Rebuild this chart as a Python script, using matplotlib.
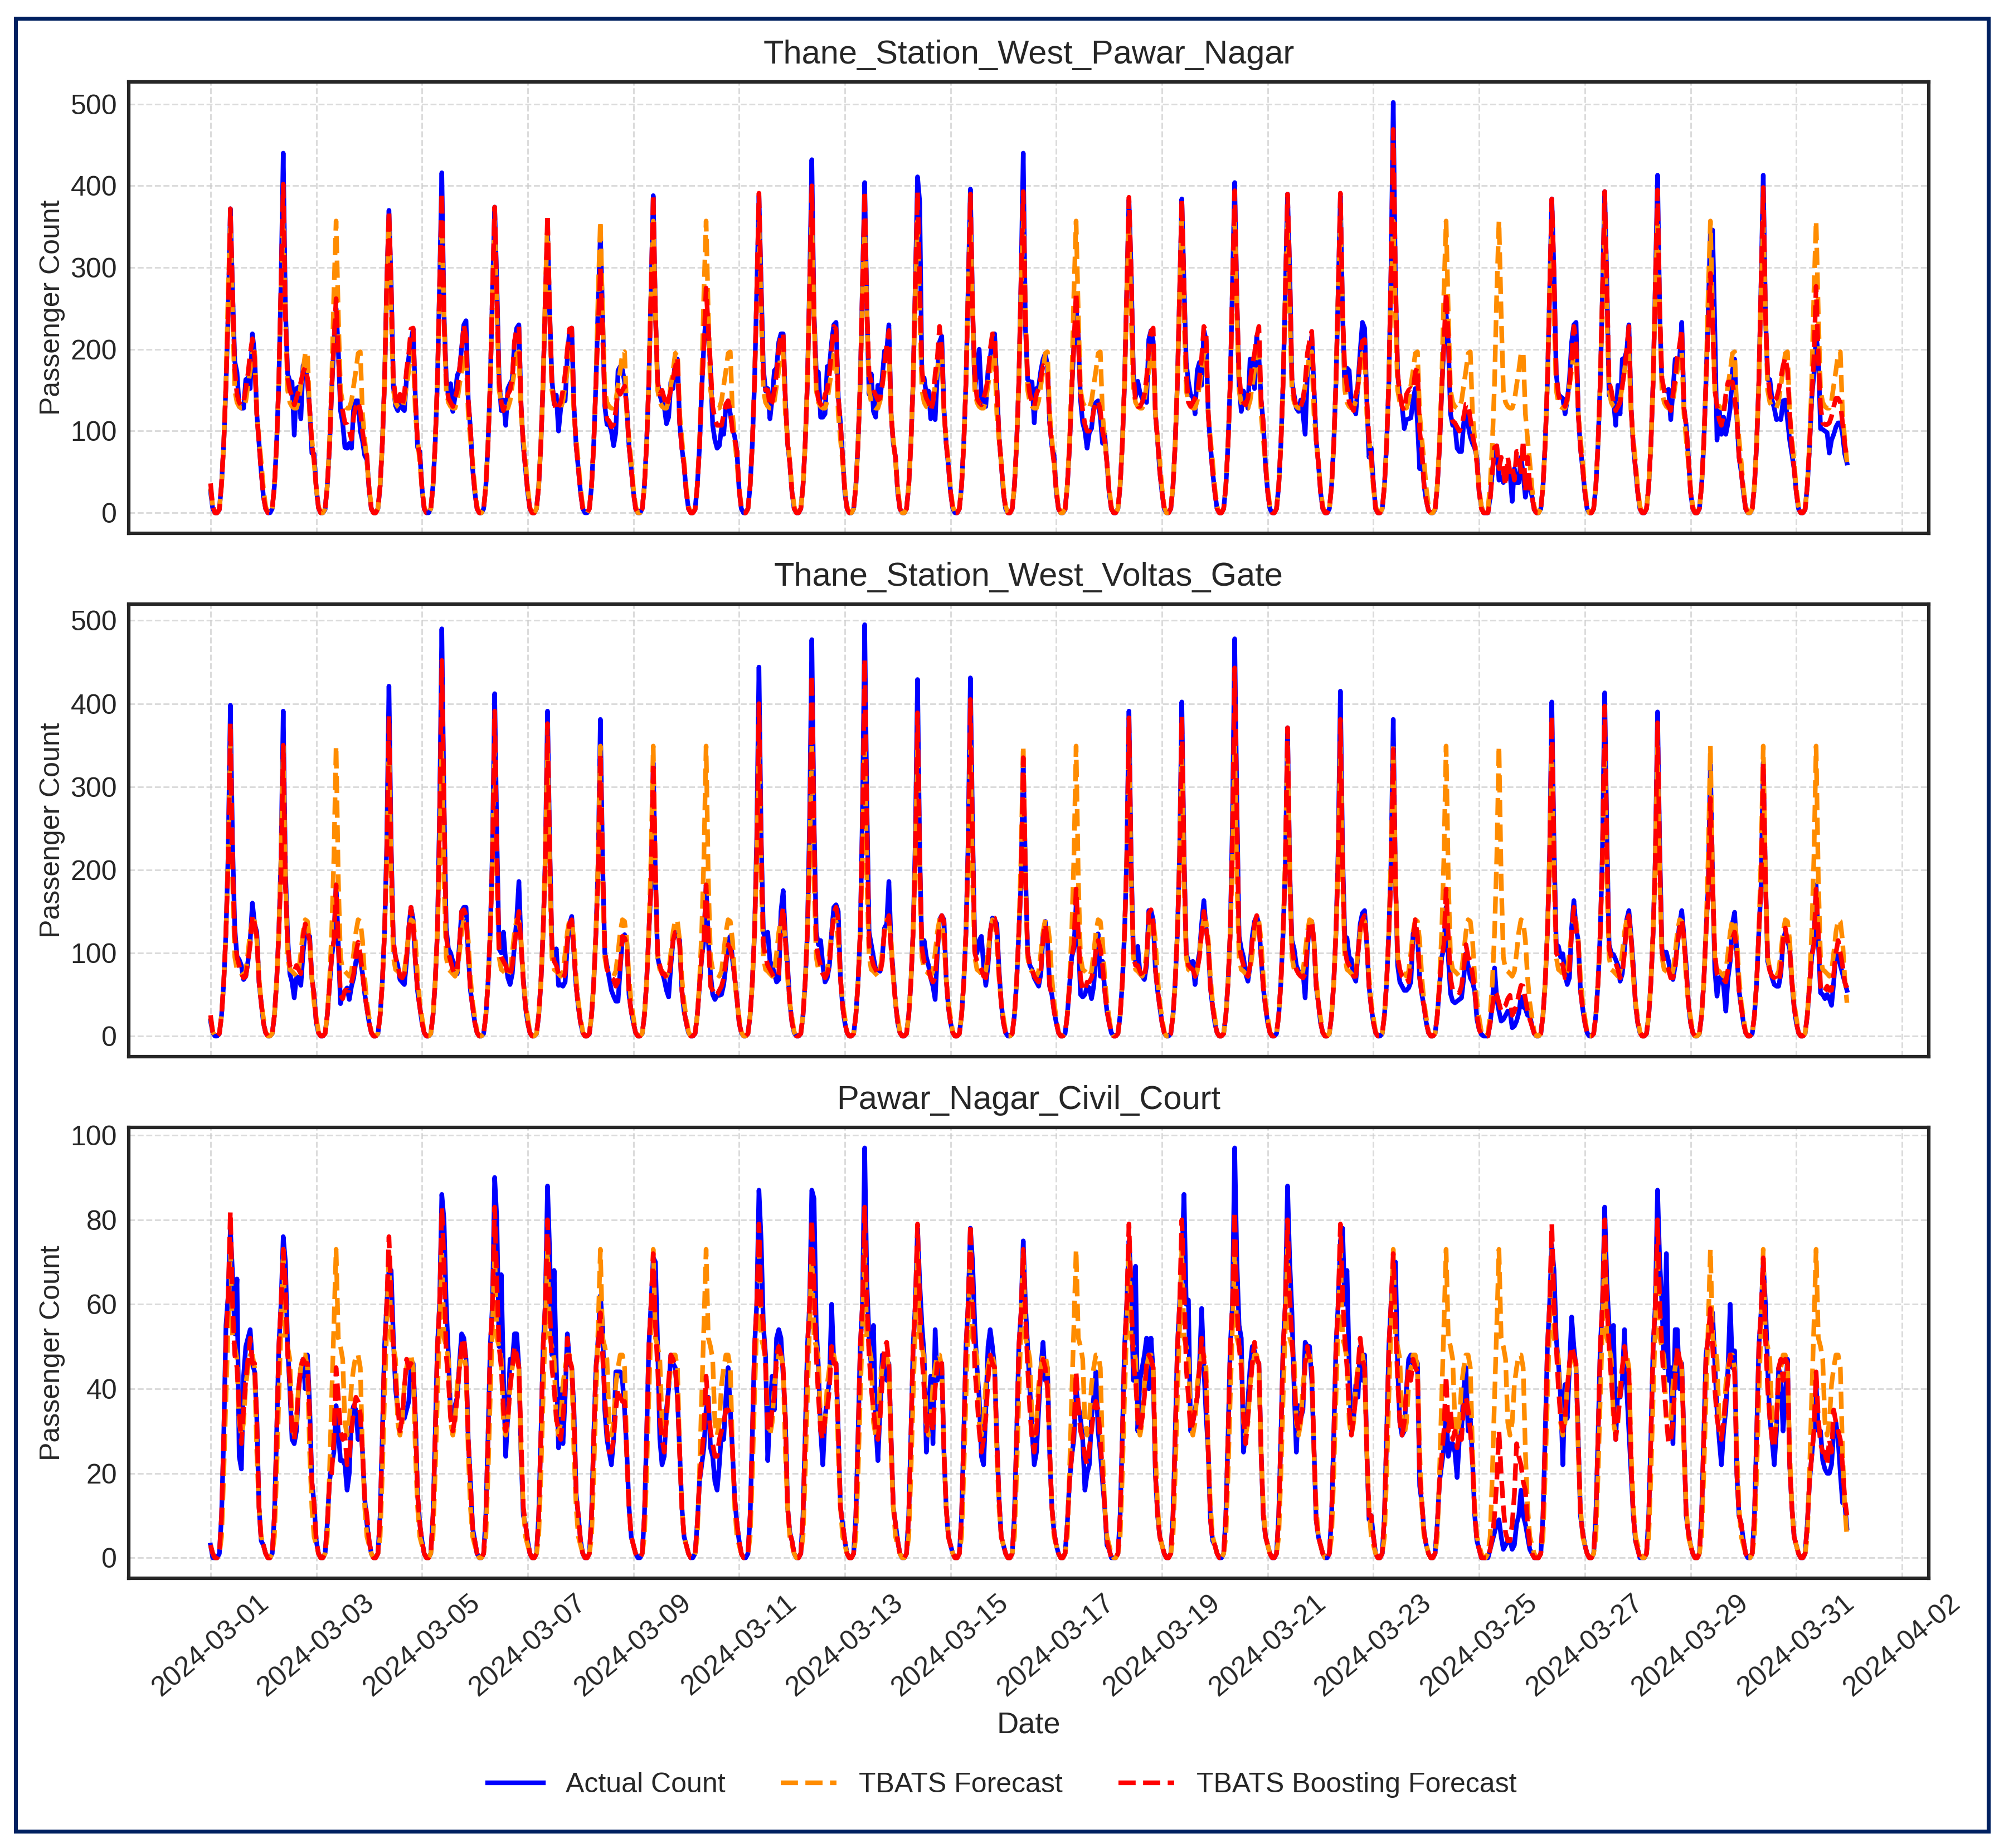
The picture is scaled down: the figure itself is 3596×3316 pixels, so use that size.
import pandas as pd
import matplotlib
matplotlib.use('Agg')
import matplotlib.pyplot as plt
import matplotlib.dates as mdates
from matplotlib.patches import Rectangle

plt.rcParams['font.family'] = ['Liberation Sans', 'DejaVu Sans']
plt.rcParams['text.color'] = '#262626'
plt.rcParams['axes.labelcolor'] = '#262626'
plt.rcParams['xtick.color'] = '#262626'
plt.rcParams['ytick.color'] = '#262626'

titles = ['Thane_Station_West_Pawar_Nagar', 'Thane_Station_West_Voltas_Gate', 'Pawar_Nagar_Civil_Court']
series_names = ['Actual Count', 'TBATS Forecast', 'TBATS Boosting Forecast']

# hourly readings, one line per day, 1 to 31 March
pawar_actual = [
26,5,0,0,4,36,85,156,244,372,270,185,172,130,128,128,163,165,152,219,195,121,85,50,
20,5,0,0,5,33,85,160,280,440,250,170,161,160,95,152,154,115,180,186,160,128,73,72,
30,6,0,0,4,33,80,150,205,250,200,125,110,80,79,85,79,130,137,137,100,88,70,65,
28,5,0,0,5,33,85,160,280,370,280,155,131,125,135,128,125,165,190,210,225,140,80,75,
30,5,0,0,5,33,85,160,280,416,244,166,142,158,124,142,168,174,202,230,235,138,103,54,
25,5,0,0,5,33,85,160,270,374,279,166,125,138,107,152,158,163,208,226,230,131,82,54,
25,5,0,0,5,33,85,160,260,350,244,163,133,144,100,128,138,137,191,223,226,131,82,54,
25,5,0,0,5,33,85,160,255,342,244,131,108,108,100,82,98,174,179,175,160,128,82,54,
25,5,0,0,5,33,85,160,270,388,244,160,144,135,130,109,117,160,152,188,188,110,79,58,
25,5,0,0,4,33,80,150,205,244,226,174,107,89,79,82,103,96,131,137,121,103,93,75,
28,5,0,0,5,33,85,160,270,388,279,177,149,152,115,140,174,177,209,219,219,138,85,61,
25,5,0,0,5,33,85,160,280,432,244,174,172,117,117,121,179,179,209,230,233,142,110,68,
25,5,0,0,5,33,85,160,280,404,250,145,170,124,117,156,138,166,198,198,230,121,85,68,
25,5,0,0,5,33,85,160,280,411,380,163,165,145,149,115,142,114,170,209,216,128,85,58,
25,5,0,0,5,33,85,160,275,396,251,151,177,200,142,131,130,174,188,216,219,156,93,61,
25,5,0,0,5,33,85,160,285,440,226,163,160,160,110,152,154,174,188,195,180,110,82,70,
25,5,0,0,4,33,80,150,205,251,216,138,110,100,79,98,103,128,135,137,117,85,96,61,
25,5,0,0,5,33,85,160,270,383,296,170,142,161,147,140,138,135,212,223,210,121,89,50,
25,5,0,0,5,33,85,160,270,384,279,184,160,144,142,121,174,184,156,223,212,121,82,50,
25,5,0,0,5,33,85,160,280,404,261,156,124,149,142,128,188,188,152,216,191,138,110,58,
25,5,0,0,5,33,85,160,270,390,296,160,144,128,124,138,121,96,170,184,216,152,89,61,
25,5,0,0,5,33,85,160,270,388,244,152,177,174,131,128,121,160,198,233,226,138,68,79,
35,5,0,0,5,33,85,160,300,502,279,170,142,131,103,114,115,116,138,152,110,54,75,33,
15,3,0,0,4,33,80,150,205,244,209,121,107,107,79,75,75,110,124,107,93,85,79,68,
25,8,0,0,0,19,50,75,82,40,44,37,51,47,50,14,54,37,37,68,47,19,37,33,
20,4,0,0,5,33,85,160,270,384,293,170,145,142,140,121,138,163,209,230,233,121,79,54,
25,5,0,0,5,33,85,160,270,393,279,144,144,138,107,156,121,188,189,198,230,128,82,54,
25,5,0,0,5,33,85,160,280,413,244,156,151,149,151,114,149,188,188,188,233,128,107,68,
25,5,0,0,5,33,85,160,245,344,346,226,89,128,96,117,96,110,128,174,188,117,68,50,
25,5,0,0,5,33,85,160,280,413,244,163,163,138,128,114,115,114,137,138,114,89,72,54,
25,5,0,0,4,33,80,140,170,216,195,103,102,100,98,73,89,96,105,110,110,96,72,61,
]
pawar_boost = [
36,8,0,0,4,36,85,156,244,372,270,175,145,135,131,135,152,170,195,213,190,121,85,50,
20,5,0,0,5,33,85,160,280,402,240,165,150,142,132,140,150,160,172,178,165,128,85,65,
30,6,0,0,4,33,80,150,209,262,195,135,125,110,108,100,90,118,130,136,125,100,80,70,
28,5,0,0,5,33,85,160,280,370,280,165,140,130,145,130,145,175,195,225,226,140,85,70,
30,5,0,0,5,33,85,160,280,392,235,160,140,135,130,140,150,175,200,230,215,138,103,54,
25,5,0,0,5,33,85,160,270,374,270,160,135,125,135,145,150,165,210,225,228,131,82,54,
25,5,0,0,5,33,85,160,260,365,240,160,135,125,130,135,150,170,200,225,226,131,82,54,
25,5,0,0,5,33,85,160,225,300,220,135,115,112,105,108,125,150,145,150,155,128,82,54,
25,5,0,0,5,33,85,160,270,390,244,160,145,150,140,130,140,150,165,178,190,110,79,58,
25,5,0,0,4,33,80,150,205,275,226,180,130,115,107,107,107,120,133,137,125,100,90,75,
28,5,0,0,5,33,85,160,270,391,270,165,150,150,130,135,150,170,200,219,219,138,85,61,
25,5,0,0,5,33,85,160,280,400,240,155,138,133,130,145,150,170,200,228,225,142,110,68,
25,5,0,0,5,33,85,160,280,394,250,170,160,150,144,138,140,156,181,205,223,121,85,68,
25,5,0,0,5,33,85,160,280,393,280,175,150,140,135,125,135,170,190,228,200,128,85,58,
25,5,0,0,5,33,85,160,275,390,251,170,140,135,132,140,150,165,200,219,219,156,93,61,
25,5,0,0,5,33,85,160,285,393,240,165,145,135,130,145,152,165,180,178,172,110,82,60,
25,5,0,0,4,33,80,150,205,270,210,145,125,108,100,100,110,125,135,137,125,100,88,61,
25,5,0,0,5,33,85,160,270,386,296,170,135,130,130,135,145,165,200,222,226,121,89,50,
25,5,0,0,5,33,85,160,270,384,279,170,135,130,135,140,145,165,190,228,222,121,82,50,
25,5,0,0,5,33,85,160,280,394,261,170,140,135,132,140,160,180,195,215,228,138,110,58,
25,5,0,0,5,33,85,160,270,390,296,165,140,130,128,130,138,160,195,210,222,152,89,61,
25,5,0,0,5,33,85,160,270,391,244,175,155,135,130,125,145,155,190,210,212,138,90,70,
35,5,0,0,5,33,85,160,300,469,290,170,145,130,125,145,150,152,150,172,178,100,75,33,
15,3,0,0,4,33,80,150,205,270,215,130,112,110,105,100,105,118,133,133,115,95,82,60,
25,5,0,0,0,15,50,80,82,54,68,50,33,68,50,58,40,75,75,50,89,26,68,33,
20,4,0,0,5,33,85,160,270,384,293,170,145,135,135,130,140,155,190,228,210,121,79,54,
25,5,0,0,5,33,85,160,270,393,279,160,150,135,125,130,135,155,175,200,228,128,82,54,
25,5,0,0,5,33,85,160,280,395,244,165,150,135,130,125,145,165,190,205,225,128,107,68,
25,5,0,0,5,33,85,160,225,293,230,150,131,114,107,120,145,160,160,160,140,117,68,50,
25,5,0,0,5,33,85,160,280,398,244,170,145,135,138,140,150,165,180,190,175,121,82,54,
25,5,0,0,4,33,80,140,190,277,190,130,110,108,108,110,118,130,140,140,135,110,85,65,
]
# TBATS repeats the same daily shape all month, read once per panel
pawar_tbats_day = [30,8,0,0,5,33,85,160,270,357,244,150,135,130,128,128,137,156,174,195,197,121,90,62]

voltas_actual = [
18,4,0,0,3,25,65,125,220,398,230,130,96,92,85,68,72,90,115,160,135,125,65,40,
16,4,0,0,3,25,65,125,215,391,200,120,75,65,46,72,70,61,100,125,122,120,70,50,
16,4,0,0,3,25,60,95,115,182,110,39,50,54,58,44,60,70,90,95,92,75,51,33,
16,4,0,0,3,25,65,125,230,421,230,110,95,85,68,65,62,90,130,155,140,90,54,35,
16,4,0,0,3,25,65,125,270,490,280,130,105,100,90,85,75,110,150,155,155,100,55,35,
16,4,0,0,3,25,65,125,225,412,240,105,100,125,90,70,62,75,110,140,186,110,70,35,
16,4,0,0,3,25,65,125,215,391,230,105,90,105,61,62,60,65,110,135,144,100,60,35,
16,4,0,0,3,25,65,125,210,381,210,100,85,70,55,48,42,42,80,118,122,115,50,30,
16,4,0,0,3,25,65,125,180,329,190,95,82,78,68,55,47,85,115,125,122,115,55,30,
16,4,0,0,3,25,60,95,115,182,115,75,50,44,49,49,50,62,85,115,120,92,70,45,
16,4,0,0,3,25,65,125,240,444,240,125,115,125,90,85,75,65,68,150,175,120,85,40,
16,4,0,0,3,25,65,125,260,477,260,125,110,115,85,65,70,85,125,155,158,150,70,35,
16,4,0,0,3,25,65,125,270,495,280,125,110,95,80,80,78,95,130,135,186,110,75,40,
16,4,0,0,3,25,65,125,235,429,220,100,115,95,85,70,60,44,100,140,145,140,70,35,
16,4,0,0,3,25,65,125,235,431,250,105,100,115,120,85,61,85,125,142,140,135,80,40,
16,4,0,0,3,25,65,125,185,335,200,100,85,80,70,65,60,75,123,138,115,60,50,30,
16,4,0,0,3,25,60,95,105,158,120,50,47,50,60,58,45,60,100,123,72,90,55,30,
16,4,0,0,3,25,65,125,215,391,210,100,90,108,75,72,68,85,151,151,140,80,55,35,
16,4,0,0,3,25,65,125,220,402,220,100,90,85,90,62,85,100,135,163,130,110,58,35,
16,4,0,0,3,25,65,125,260,478,280,120,105,95,75,66,85,120,138,144,135,95,58,35,
16,4,0,0,3,25,65,125,205,371,200,115,105,85,78,75,78,46,105,135,138,115,60,40,
16,4,0,0,3,25,65,125,225,415,220,120,118,95,92,72,66,100,135,148,151,110,60,35,
16,4,0,0,3,25,65,125,210,381,190,85,65,60,55,55,58,65,123,130,120,70,50,35,
16,4,0,0,3,25,60,95,105,155,95,51,42,40,42,44,46,70,99,85,70,65,54,20,
8,2,0,0,0,15,40,82,45,30,18,20,25,30,30,10,12,18,28,47,35,33,25,25,
12,3,0,0,3,25,65,125,220,402,230,110,108,95,99,75,62,70,130,163,130,115,55,33,
16,4,0,0,3,25,65,125,225,413,240,110,100,98,92,85,66,75,105,140,151,120,85,38,
16,4,0,0,3,25,65,125,215,390,225,105,95,101,90,72,68,85,110,135,151,120,85,40,
16,4,0,0,3,25,65,125,180,327,190,80,48,70,72,60,30,70,90,135,149,100,55,35,
16,4,0,0,3,25,65,125,180,329,190,90,80,70,62,60,60,75,115,125,115,105,65,35,
16,4,0,0,3,25,60,95,115,182,115,52,50,45,50,45,37,65,100,98,85,75,65,55,
]
voltas_boost = [
25,5,0,0,3,25,65,125,210,377,210,120,95,85,75,70,72,90,110,145,135,120,65,40,
16,4,0,0,3,25,65,125,195,350,180,110,85,80,78,85,80,75,120,135,125,115,70,50,
16,4,0,0,3,25,60,95,115,182,110,50,45,55,55,55,65,75,100,113,98,75,51,33,
16,4,0,0,3,25,65,125,220,385,220,115,95,85,72,70,75,95,130,155,135,90,54,35,
16,4,0,0,3,25,65,125,260,452,280,120,100,90,80,75,80,110,150,152,145,95,55,35,
16,4,0,0,3,25,65,125,215,391,220,105,95,90,85,75,72,85,110,130,150,110,65,35,
16,4,0,0,3,25,65,125,210,376,225,110,90,85,75,70,70,75,115,135,140,100,60,35,
16,4,0,0,3,25,65,125,190,340,215,105,80,75,70,68,60,65,85,120,118,110,50,30,
16,4,0,0,3,25,65,125,180,329,200,100,85,75,75,70,70,90,115,125,125,110,55,30,
16,4,0,0,3,25,60,95,115,182,120,60,55,48,50,55,60,70,90,110,105,92,70,45,
16,4,0,0,3,25,65,125,225,400,230,110,95,85,80,75,70,70,75,135,155,115,80,40,
16,4,0,0,3,25,65,125,240,435,250,110,95,85,75,70,75,85,120,148,155,140,70,35,
16,4,0,0,3,25,65,125,255,454,260,110,95,85,80,75,75,90,130,135,145,105,70,40,
16,4,0,0,3,25,65,125,215,389,215,105,90,85,80,70,65,70,105,135,145,138,70,35,
16,4,0,0,3,25,65,125,225,405,240,100,90,85,80,72,70,90,125,142,142,125,75,40,
16,4,0,0,3,25,65,125,185,335,195,100,85,80,72,68,65,78,118,135,115,60,50,30,
16,4,0,0,3,25,60,95,110,177,125,70,55,55,65,65,70,80,105,115,105,85,55,30,
16,4,0,0,3,25,65,125,210,383,205,95,85,85,78,72,70,90,148,152,135,80,55,35,
16,4,0,0,3,25,65,125,215,385,215,100,85,82,80,72,80,95,125,150,130,110,58,35,
16,4,0,0,3,25,65,125,245,443,270,110,95,85,75,72,85,115,135,145,135,95,58,35,
16,4,0,0,3,25,65,125,205,371,195,105,90,80,75,72,70,75,110,135,138,115,60,40,
16,4,0,0,3,25,65,125,210,381,210,105,90,85,80,72,72,100,130,140,145,110,60,35,
16,4,0,0,3,25,65,125,190,345,190,95,80,72,70,72,65,85,115,140,120,70,50,35,
16,4,0,0,3,25,60,95,110,177,120,70,55,55,55,52,60,80,110,95,90,75,54,25,
8,2,0,0,0,15,35,54,50,40,30,35,37,45,49,25,30,37,50,61,60,45,30,20,
12,3,0,0,3,25,65,125,215,385,220,100,95,90,85,70,70,80,125,155,130,112,55,33,
16,4,0,0,3,25,65,125,220,397,230,105,95,90,88,80,70,75,100,138,145,118,80,38,
16,4,0,0,3,25,65,125,210,377,215,100,90,88,80,70,70,82,110,130,140,118,80,40,
16,4,0,0,3,25,65,125,165,286,180,100,75,70,70,68,65,80,95,118,125,100,55,35,
16,4,0,0,3,25,65,125,180,329,190,90,78,72,70,70,65,80,115,130,115,105,65,35,
16,4,0,0,3,25,60,95,110,177,125,60,52,55,60,55,55,75,100,115,100,85,65,58,
]
voltas_tbats_day = [22,5,0,0,3,25,65,125,215,349,190,95,80,78,75,72,78,100,125,140,138,115,70,40]

court_actual = [
3,0,0,0,1,10,29,55,62,78,67,53,66,24,21,43,50,52,54,46,44,33,12,4,
3,1,0,0,1,10,29,50,60,76,70,50,40,28,27,30,40,45,47,40,48,36,18,13,
4,1,0,0,1,8,18,22,25,36,30,23,23,22,16,20,34,36,35,28,34,25,14,8,
4,1,0,0,1,10,29,50,60,68,68,52,40,35,33,35,33,35,37,45,46,33,15,8,
4,1,0,0,1,10,29,50,60,86,80,60,48,34,34,36,38,46,53,52,47,28,18,7,
4,1,0,0,1,10,29,50,60,90,80,50,67,43,24,34,47,46,53,53,45,24,10,8,
4,1,0,0,1,10,29,50,60,88,72,48,68,45,26,40,27,38,53,46,45,35,15,10,
4,1,0,0,1,10,29,45,52,62,55,35,28,25,22,28,44,44,44,42,35,25,12,5,
3,1,0,0,1,10,29,50,60,71,70,50,28,22,24,35,40,48,46,45,38,25,12,5,
3,1,0,0,1,8,18,22,26,35,38,26,24,18,16,22,30,28,38,45,35,25,14,8,
4,1,0,0,1,10,29,50,60,87,75,55,48,23,35,43,35,52,54,52,43,33,12,6,
4,1,0,0,1,10,29,50,60,87,85,55,45,30,22,33,38,42,60,46,46,30,12,8,
4,1,0,0,1,10,29,50,60,97,65,52,45,55,32,23,35,48,47,42,46,28,12,8,
4,1,0,0,1,10,29,50,60,78,65,55,48,25,35,43,27,54,42,46,46,25,12,5,
3,1,0,0,1,10,29,50,60,78,70,55,45,38,24,22,35,50,54,50,45,28,14,5,
3,1,0,0,1,10,29,50,58,75,60,50,40,30,22,25,35,45,51,42,45,25,12,6,
3,1,0,0,1,8,18,24,28,40,36,33,28,16,20,22,33,38,44,30,25,18,12,3,
2,0,0,0,1,10,29,50,60,75,65,42,69,30,42,45,48,52,40,52,44,20,10,5,
3,1,0,0,1,10,29,50,60,70,86,60,61,30,32,35,38,45,59,45,34,25,9,4,
3,1,0,0,1,10,29,50,60,97,70,55,52,25,30,37,45,50,49,47,46,25,10,5,
3,1,0,0,1,10,29,50,60,88,70,58,40,25,36,33,35,51,50,50,42,26,9,5,
3,1,0,0,1,10,29,50,60,75,78,60,68,45,30,33,41,38,50,42,48,25,9,10,
5,1,0,0,1,10,29,50,60,70,70,45,32,29,30,40,47,48,46,47,46,17,13,6,
3,1,0,0,1,8,18,22,26,35,24,27,27,25,19,28,30,40,45,30,33,23,10,4,
2,0,0,0,0,2,4,6,8,9,5,2,3,4,4,2,3,8,10,16,10,8,5,2,
1,0,0,0,1,10,29,50,60,74,68,52,46,38,22,41,33,45,57,50,45,28,10,6,
3,1,0,0,1,10,29,50,60,83,65,55,50,55,28,40,38,42,54,40,30,20,10,4,
2,0,0,0,1,10,29,50,60,87,70,60,45,72,42,45,27,54,54,40,46,28,10,6,
3,1,0,0,1,10,29,48,52,55,58,46,35,28,22,30,35,45,60,45,49,20,10,8,
4,1,0,0,1,10,29,50,58,70,60,45,33,28,22,30,45,42,30,38,47,22,12,5,
3,1,0,0,1,8,18,24,30,41,30,30,23,21,20,20,22,30,32,28,20,13,13,7,
]
court_boost = [
3,1,0,0,1,10,29,52,62,82,60,48,45,35,27,35,42,47,52,46,46,33,12,4,
3,1,0,0,1,10,29,50,60,73,65,48,42,30,28,33,40,45,47,46,46,34,18,13,
4,1,0,0,1,8,18,20,28,45,38,30,28,29,22,24,30,35,38,37,34,25,14,10,
4,1,0,0,1,10,29,50,60,76,62,50,42,36,30,33,40,47,45,46,45,33,15,8,
4,1,0,0,1,10,29,50,60,83,70,48,42,33,30,33,38,45,50,52,46,28,18,7,
4,1,0,0,1,10,29,50,60,83,65,50,45,35,30,33,40,45,50,48,45,28,12,8,
4,1,0,0,1,10,29,50,60,80,60,45,40,33,30,28,33,40,52,47,45,34,15,10,
4,1,0,0,1,10,29,45,50,58,48,38,30,25,25,28,35,40,38,37,37,24,12,5,
3,1,0,0,1,10,29,50,60,72,55,45,33,28,25,33,42,48,47,45,38,25,12,5,
3,1,0,0,1,8,18,24,30,43,36,30,27,24,24,28,30,32,35,35,34,25,14,8,
4,1,0,0,1,10,29,50,60,79,60,55,45,30,30,35,38,48,50,48,45,33,12,6,
4,1,0,0,1,10,29,50,60,80,65,48,38,30,28,33,35,40,50,46,46,30,12,8,
4,1,0,0,1,10,29,50,60,83,60,48,40,35,30,28,33,42,50,51,46,28,12,8,
4,1,0,0,1,10,29,50,60,79,60,48,40,30,33,35,30,40,46,44,46,25,12,5,
3,1,0,0,1,10,29,50,60,79,62,45,38,30,25,28,33,42,48,46,45,28,14,5,
3,1,0,0,1,10,29,50,58,73,58,45,35,28,25,30,38,45,47,45,40,25,12,6,
3,1,0,0,1,8,18,24,30,44,36,30,28,24,22,26,30,35,37,35,28,20,12,4,
2,0,0,0,1,10,29,50,60,79,62,46,42,33,30,33,38,46,48,47,45,20,10,5,
3,1,0,0,1,10,29,50,60,80,65,45,38,30,32,35,38,45,52,47,42,25,9,4,
3,1,0,0,1,10,29,50,60,82,60,50,45,33,27,33,40,46,51,47,46,25,10,5,
3,1,0,0,1,10,29,50,60,80,62,52,42,33,30,33,36,46,50,47,45,26,9,5,
3,1,0,0,1,10,29,50,60,79,62,52,45,35,29,33,38,45,52,47,45,25,10,10,
5,1,0,0,1,10,29,50,60,72,55,42,32,29,32,40,45,42,47,45,44,20,13,6,
3,1,0,0,1,8,18,24,30,43,30,35,28,30,26,30,28,36,38,35,30,22,10,4,
2,0,0,0,0,2,5,10,18,30,20,12,6,4,4,8,15,27,24,22,18,16,8,3,
1,0,0,0,1,10,29,50,60,79,60,50,40,33,30,33,40,46,50,48,46,28,10,6,
3,1,0,0,1,10,29,50,60,80,60,50,42,35,28,33,38,45,50,46,44,22,10,4,
2,0,0,0,1,10,29,50,60,80,60,50,40,33,27,28,32,42,50,47,45,28,10,6,
3,1,0,0,1,10,29,48,52,59,50,40,33,30,28,32,38,42,48,46,44,20,10,8,
4,1,0,0,1,10,29,50,58,71,52,40,33,28,26,33,45,47,42,47,46,22,12,5,
3,1,0,0,1,8,18,24,30,44,33,27,25,25,22,28,25,35,32,30,28,22,14,10,
]
court_tbats_day = [3,1,0,0,1,5,20,38,55,73,52,50,47,32,29,32,41,45,48,48,45,25,12,5]

actual_series = [pawar_actual, voltas_actual, court_actual]
tbats_series = [pawar_tbats_day * 31, voltas_tbats_day * 31, court_tbats_day * 31]
boost_series = [pawar_boost, voltas_boost, court_boost]

dates = pd.date_range('2024-03-01', periods=744, freq='h')
date_ticks = pd.date_range('2024-03-01', '2024-04-02', freq='2D')
y_ticks = [[0, 100, 200, 300, 400, 500], [0, 100, 200, 300, 400, 500], [0, 20, 40, 60, 80, 100]]

W, H = 3596, 3316
fig = plt.figure(figsize=(W / 300, H / 300), dpi=300)

# panel boxes in pixels: left, top, right, bottom
boxes = [(231, 147, 3461, 957), (231, 1084, 3461, 1896), (231, 2023, 3461, 2832)]

for i in range(3):
    left, top, right, bottom = boxes[i]
    ax = fig.add_axes([left / W, 1 - bottom / H, (right - left) / W, (bottom - top) / H])
    ax.plot(dates, actual_series[i], color='blue', lw=2, label=series_names[0])
    ax.plot(dates, tbats_series[i], color='darkorange', lw=2, ls='--', label=series_names[1])
    ax.plot(dates, boost_series[i], color='red', lw=2, ls='--', label=series_names[2])
    ax.set_title(titles[i], fontsize=14.3, pad=8)
    ax.set_ylabel('Passenger Count', fontsize=12, va='center')
    ax.yaxis.set_label_coords(-0.0425, 0.5)
    ax.set_yticks(y_ticks[i])
    ax.set_xticks(date_ticks)
    ax.xaxis.set_major_formatter(mdates.DateFormatter('%Y-%m-%d'))
    ax.tick_params(length=0, labelsize=12, pad=5)
    ax.grid(True, ls='--', color='#cccccc', lw=0.7, alpha=0.7)
    ax.set_axisbelow(True)
    for s in ax.spines.values():
        s.set_linewidth(1.5)
        s.set_color('#262626')
    if i < 2:
        ax.tick_params(labelbottom=False)
    else:
        plt.setp(ax.get_xticklabels(), rotation=40, ha='center')
        ax.set_xlabel('Date', fontsize=13, va='center')
        ax.xaxis.set_label_coords(0.5, -(3095 - bottom) / (bottom - top))

handles, labels = ax.get_legend_handles_labels()
fig.legend(handles, labels, loc='center', bbox_to_anchor=(1798 / W, 1 - 3203 / H), ncol=3, frameon=False, fontsize=12)

# navy frame round the whole figure
fig.add_artist(Rectangle((27.5 / W, 1 - 3286 / H), (3568 - 27.5) / W, (3286 - 33) / H, transform=fig.transFigure,
                         fill=False, edgecolor='#002060', lw=1.7))

fig.savefig('out.png', dpi=300)
